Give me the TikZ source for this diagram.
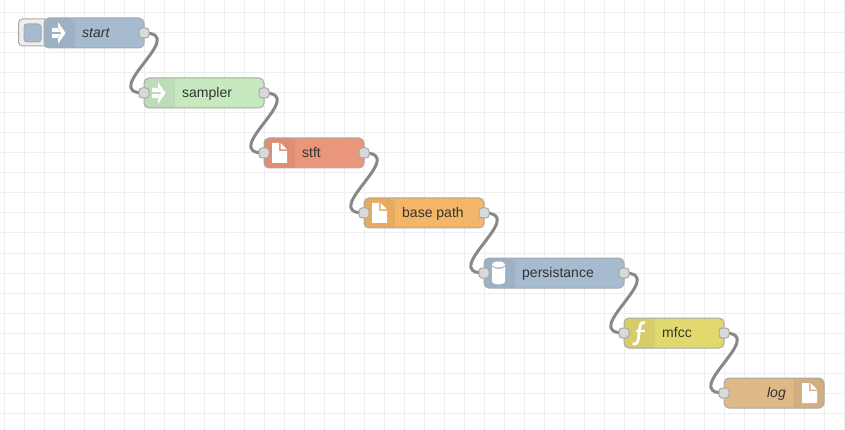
\documentclass[tikz,border=0pt]{standalone}
\usepackage{fontspec}
\setmainfont{Liberation Sans}
\pgfdeclarelayer{gridlayer}
\pgfdeclarelayer{linklayer}
\pgfsetlayers{gridlayer,linklayer,main}
\definecolor{gridc}{HTML}{EEEEEE}
\definecolor{edgec}{HTML}{A8A8A8}
\definecolor{linkc}{HTML}{888888}
\definecolor{txtc}{HTML}{333333}
\definecolor{portc}{HTML}{D9D9D9}
\definecolor{cblue}{HTML}{A6BBCF}
\definecolor{cgreen}{HTML}{C7E9C0}
\definecolor{csalmon}{HTML}{E9967A}
\definecolor{corange}{HTML}{F3B567}
\definecolor{cyellow}{HTML}{E2D96E}
\definecolor{ctan}{HTML}{DEB887}
\tikzset{
  flownode/.style={draw=edgec,line width=1pt,rounded corners=5pt,inner sep=0pt,minimum height=30pt},
  portbox/.style={draw=edgec,fill=portc,line width=1pt,rounded corners=3pt,inner sep=0pt,minimum width=10pt,minimum height=10pt},
  lbl/.style={text=txtc,font=\fontsize{14}{14}\selectfont,inner sep=0pt,anchor=base west},
  iconbg/.style={fill=black,fill opacity=0.05},
  link/.style={draw=linkc,line width=3pt},
}
% file icon: #1 left of icon, #2 middle y
\newcommand\fileicon[2]{%
  \fill[white] (#1,#2-10) -- (#1+7,#2-10) -- (#1+7,#2-2) -- (#1+15,#2-2) -- (#1+15,#2+10) -- (#1,#2+10) -- cycle;
  \fill[white] (#1+8.5,#2-10) -- (#1+15,#2-3.5) -- (#1+8.5,#2-3.5) -- cycle;
}
% arrow icon
\newcommand\arrowicon[2]{%
  \fill[white] (#1+6,#2-11) -- (#1+13.5,#2) -- (#1+6,#2+11) -- (#1+6,#2+5.5) -- (#1+9,#2) -- (#1+6,#2-5.5) -- cycle;
  \fill[white] (#1,#2-5) -- (#1+5.5,#2-5) -- (#1+8,#2-1.2) -- (#1,#2-1.2) -- cycle;
  \fill[white] (#1,#2+1.2) -- (#1+8,#2+1.2) -- (#1+5.5,#2+5) -- (#1,#2+5) -- cycle;
}
\newcommand\linkcurve[2]{%
  \draw[link] (#1.center) .. controls ([xshift=46pt]#1.center) and ([xshift=-46pt]#2.center) .. (#2.center);
}
\begin{document}
\begin{tikzpicture}[x=1pt,y=-1pt]
\useasboundingbox (0,0) rectangle (845,430);
\begin{pgfonlayer}{gridlayer}
\fill[white] (0,0) rectangle (845,430);
\foreach \gx in {4,24,...,844} \draw[gridc,line width=1pt] (\gx,0) -- (\gx,430);
\foreach \gy in {13,33,...,430} \draw[gridc,line width=1pt] (0,\gy) -- (845,\gy);
\end{pgfonlayer}

% inject button
\node[draw=edgec,fill=gridc,line width=1pt,rounded corners=4pt,inner sep=0pt,minimum width=30pt,minimum height=27pt] (btn) at (33.5,32.5) {};
\node[draw=edgec,fill=cblue,line width=1pt,rounded corners=3pt,inner sep=0pt,minimum width=17pt,minimum height=18pt] (btnin) at (32.5,33) {};

% nodes
\node[flownode,fill=cblue,minimum width=100pt] (start) at (94,33) {};
\node[flownode,fill=cgreen,minimum width=120pt] (sampler) at (204,93) {};
\node[flownode,fill=csalmon,minimum width=100pt] (stft) at (314,153) {};
\node[flownode,fill=corange,minimum width=120pt] (basepath) at (424,213) {};
\node[flownode,fill=cblue,minimum width=140pt] (persist) at (554,273) {};
\node[flownode,fill=cyellow,minimum width=100pt] (mfcc) at (674,333) {};
\node[flownode,fill=ctan,minimum width=100pt] (logn) at (774,393) {};

% icon panels
\foreach \lx/\cy in {44/33,144/93,264/153,364/213,484/273,624/333}{
  \fill[iconbg,rounded corners=5pt] (\lx+0.5,\cy-14.5) -- (\lx+30,\cy-14.5) [sharp corners] -- (\lx+30,\cy+14.5) [rounded corners=5pt] -- (\lx+0.5,\cy+14.5) -- cycle;
}
\fill[iconbg,rounded corners=5pt] (823.5,378.5) -- (794,378.5) [sharp corners] -- (794,407.5) [rounded corners=5pt] -- (823.5,407.5) -- cycle;
\foreach \lx/\cy in {74/33,174/93,294/153,394/213,514/273,654/333,794/393}{
  \draw[black,opacity=0.05,line width=1pt] (\lx,\cy-14.5) -- (\lx,\cy+14.5);
}

% icons
\arrowicon{52}{33}
\arrowicon{152}{93}
\fileicon{272}{153}
\fileicon{372}{213}
\fileicon{802}{393}
% database icon
\fill[white] (492,265.5) -- (492,281) .. controls (492,285.5) and (505,285.5) .. (505,281) -- (505,265.5) .. controls (505,270) and (492,270) .. (492,265.5) -- cycle;
\fill[white] (498.5,264.5) ellipse [x radius=6.5pt,y radius=3pt];
% function icon
\draw[white,line width=2.8pt] (645,322.8) .. controls (641,321.5) and (640,325) .. (639.5,329) -- (638.5,338) .. controls (638,343) and (636,345) .. (632.5,343.8);
\draw[white,line width=2pt] (636,331) -- (645,331);

% labels
\node[lbl] (tstart) at (82,37.5) {\itshape start};
\node[lbl] (tsampler) at (182,97.5) {sampler};
\node[lbl] (tstft) at (302,157.5) {stft};
\node[lbl] (tbase) at (402,217.5) {base path};
\node[lbl] (tpersist) at (522,277.5) {persistance};
\node[lbl] (tmfcc) at (662,337.5) {mfcc};
\node[lbl,anchor=base east] (tlog) at (786,397.5) {\itshape log};

% ports
\node[portbox] (p1o) at (144,33) {};
\node[portbox] (p2i) at (144,93) {};
\node[portbox] (p2o) at (264,93) {};
\node[portbox] (p3i) at (264,153) {};
\node[portbox] (p3o) at (364,153) {};
\node[portbox] (p4i) at (364,213) {};
\node[portbox] (p4o) at (484,213) {};
\node[portbox] (p5i) at (484,273) {};
\node[portbox] (p5o) at (624,273) {};
\node[portbox] (p6i) at (624,333) {};
\node[portbox] (p6o) at (724,333) {};
\node[portbox] (p7i) at (724,393) {};

% links
\begin{pgfonlayer}{linklayer}
\linkcurve{p1o}{p2i}
\linkcurve{p2o}{p3i}
\linkcurve{p3o}{p4i}
\linkcurve{p4o}{p5i}
\linkcurve{p5o}{p6i}
\linkcurve{p6o}{p7i}
\end{pgfonlayer}
\end{tikzpicture}
\end{document}
